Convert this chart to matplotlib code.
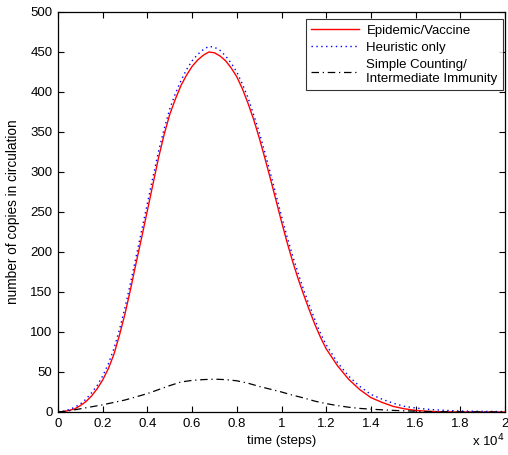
import matplotlib
matplotlib.use("Agg")
import matplotlib.pyplot as plt
from matplotlib.ticker import FuncFormatter
import numpy as np

plt.rcParams['font.family'] = ['Liberation Sans', 'DejaVu Sans']

# time in units of 1e4 steps
t_red = [0, 0.025, 0.05, 0.075, 0.1, 0.125, 0.15, 0.175, 0.2, 0.225, 0.25, 0.275, 0.3, 0.325, 0.35,
         0.375, 0.4, 0.425, 0.45, 0.475, 0.5, 0.525, 0.55, 0.575, 0.6, 0.625, 0.65, 0.675, 0.7,
         0.725, 0.75, 0.775, 0.8, 0.825, 0.85, 0.875, 0.9, 0.925, 0.95, 0.975, 1.0, 1.025, 1.05,
         1.075, 1.1, 1.125, 1.15, 1.175, 1.2, 1.25, 1.3, 1.35, 1.4, 1.45, 1.5, 1.55, 1.6, 1.65,
         1.7, 1.8, 2.0]
epidemic = [0, 0.5, 2, 4, 8, 13, 20, 29, 40, 54, 72, 96, 123, 154, 187,
            219, 252, 285, 318, 347, 372, 391, 408, 421, 432, 440, 446, 450, 449,
            445, 439, 430, 419, 404, 386, 366, 343, 318, 292, 265, 238, 212, 188,
            166, 146, 127, 109, 93, 79, 58, 41, 28, 18, 12, 7, 4, 2, 1,
            0.4, 0, 0]

t_blue = [0, 0.025, 0.05, 0.075, 0.1, 0.125, 0.15, 0.175, 0.2, 0.225, 0.25, 0.275, 0.3, 0.325, 0.35,
          0.375, 0.4, 0.425, 0.45, 0.475, 0.5, 0.525, 0.55, 0.575, 0.6, 0.625, 0.65, 0.675, 0.7,
          0.725, 0.75, 0.775, 0.8, 0.825, 0.85, 0.875, 0.9, 0.925, 0.95, 0.975, 1.0, 1.025, 1.05,
          1.075, 1.1, 1.125, 1.15, 1.175, 1.2, 1.25, 1.3, 1.35, 1.4, 1.45, 1.5, 1.55, 1.6, 1.65,
          1.7, 1.8, 1.9, 2.0]
heuristic = [0, 1, 3, 6, 10, 16, 24, 33, 45, 60, 79, 103, 131, 162, 195,
             228, 261, 294, 326, 354, 379, 398, 414, 428, 439, 447, 453, 457, 456,
             452, 445, 436, 425, 410, 393, 372, 350, 325, 299, 272, 245, 219, 195,
             173, 152, 133, 115, 98, 84, 62, 45, 32, 22, 16, 11, 7, 5, 3.5,
             2.5, 1.2, 0.8, 0.5]

t_black = [0, 0.05, 0.1, 0.15, 0.2, 0.25, 0.3, 0.35, 0.4, 0.45, 0.5, 0.55, 0.6, 0.65, 0.7, 0.75,
           0.8, 0.85, 0.9, 0.95, 1.0, 1.05, 1.1, 1.15, 1.2, 1.25, 1.3, 1.35, 1.4, 1.5, 1.6, 1.7, 2.0]
counting = [0, 1.5, 4, 6.5, 9, 12, 15, 19, 23, 28, 33, 37.5, 39.5, 40.5, 41, 40.5,
            39, 36, 32, 28.5, 25, 21, 17.5, 13.5, 10.5, 8, 6, 4.5, 3.5, 2, 1, 0.3, 0]

labels = ["Epidemic/Vaccine", "Heuristic only", "Simple Counting/\nIntermediate Immunity"]

fig = plt.figure(figsize=(5.08, 4.55), dpi=100)
ax = fig.add_axes([58/508, 43/455, 447/508, 400/455])

ax.plot(t_red, epidemic, color='red', lw=1.0, label=labels[0])
ax.plot(t_blue, heuristic, color='blue', lw=1.0, ls=(0, (1, 2.5)), label=labels[1])
ax.plot(t_black, counting, color='black', lw=0.9, ls=(0, (6, 3, 1, 3)), label=labels[2])

ax.set_xlim(0, 2)
ax.set_ylim(0, 500)
ax.set_xticks(np.arange(0, 2.01, 0.2))
ax.set_yticks(np.arange(0, 501, 50))
ax.xaxis.set_major_formatter(FuncFormatter(lambda v, p: f"{v:g}"))
ax.tick_params(direction='in', top=True, right=True, labelsize=9.5, length=4.5, width=0.8, pad=4)
for s in ax.spines.values():
    s.set_linewidth(0.9)

ax.set_xlabel("time (steps)", fontsize=9.5, labelpad=4)
ax.set_ylabel("number of copies in circulation", fontsize=9.8, labelpad=7)
fig.text(472/508, 1 - 441/455, "x 10$^4$", fontsize=9.5, ha='left', va='center')

leg = ax.legend(loc='upper right', fontsize=9.5, frameon=True, fancybox=False,
                edgecolor='black', bbox_to_anchor=(503/508, 1 - 19/455),
                bbox_transform=fig.transFigure, borderaxespad=0, handlelength=3.6,
                handletextpad=0.6, labelspacing=0.4, borderpad=0.4)
leg.get_frame().set_linewidth(0.8)

fig.savefig("out.png", dpi=100)
